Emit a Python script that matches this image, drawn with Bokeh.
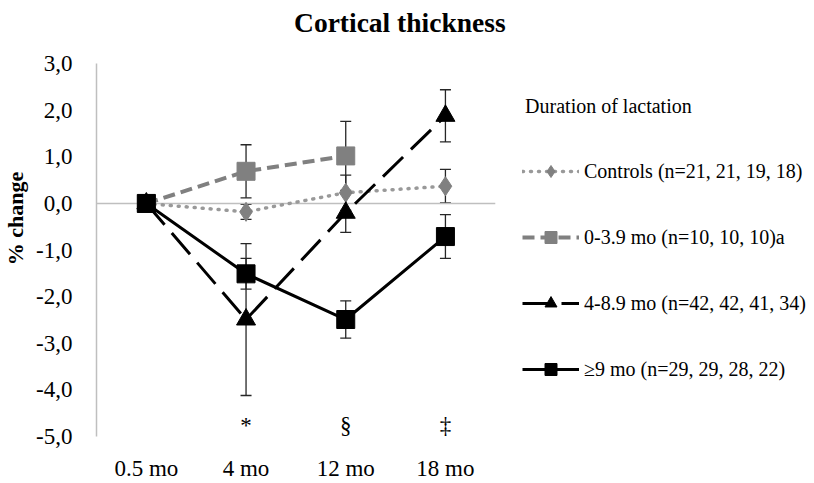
from bokeh.plotting import figure
from bokeh.models import (ColumnDataSource, Whisker, TeeHead, Legend,
                          LegendItem, FixedTicker, Label)
from bokeh.core.properties import value
from bokeh.embed import file_html
from bokeh.resources import INLINE

# Time points and significance markers
timepoints = ["0.5 mo", "4 mo", "12 mo", "18 mo"]
sig_points = ["4 mo", "12 mo", "18 mo"]
sig_marks = ["*", "\u00a7", "\u2021"]

# % change in cortical thickness (mean) and error (half-width) per group
controls_mean = [0.0, -0.18, 0.23, 0.37]
controls_err = [0.0, 0.16, 0.38, 0.36]

short_x = ["0.5 mo", "4 mo", "12 mo"]
short_mean = [0.0, 0.69, 1.02]
short_err = [0.0, 0.57, 0.74]

mid_mean = [0.0, -2.49, -0.20, 1.88]
mid_err = [0.0, 1.63, 0.42, 0.56]

long_mean = [0.0, -1.51, -2.49, -0.71]
long_err = [0.0, 0.33, 0.40, 0.47]

y_ticks = [-5, -4, -3, -2, -1, 0, 1, 2, 3]
y_tick_labels = ["-5,0", "-4,0", "-3,0", "-2,0", "-1,0", "0,0", "1,0", "2,0", "3,0"]

legend_title = "Duration of lactation"
legend_labels = [
    "Controls (n=21, 21, 19, 18)",
    "0-3.9 mo (n=10, 10, 10)a",
    "4-8.9 mo (n=42, 42, 41, 34)",
    "\u22659 mo (n=29, 29, 28, 22)",
]

SERIF = "Liberation Serif"

# each time point occupies one unit slot on a numeric axis
pos = {t: i + 0.5 for i, t in enumerate(timepoints)}
W, H = 814, 483
LEFT, BOTTOM = 92, 41
SLOT_PX = 100.25          # width of one time-point slot
UNIT_PX = 47.25           # pixels per 1 % on the y axis
Y_MIN, Y_MAX = -5, 3
x_end = (W - LEFT) / SLOT_PX
y_end = Y_MAX + (H - BOTTOM - (Y_MAX - Y_MIN) * UNIT_PX) / UNIT_PX

p = figure(width=W, height=H, x_range=(0, x_end), y_range=(Y_MIN, y_end),
           output_backend="svg", toolbar_location=None,
           min_border_left=LEFT, min_border_right=0,
           min_border_top=0, min_border_bottom=BOTTOM)
p.outline_line_color = None
p.grid.visible = False
p.background_fill_color = "white"
p.border_fill_color = "white"

# chart title
p.add_layout(Label(x=(397 - LEFT) / SLOT_PX, y=Y_MAX + (64 - 22) / UNIT_PX,
                   text="Cortical thickness", text_font=SERIF,
                   text_font_size="27.5px", text_font_style="bold",
                   text_color="black", text_align="center",
                   text_baseline="middle"))

# horizontal zero line across the time-point slots
p.segment(x0=[0], y0=[0], x1=[len(timepoints)], y1=[0],
          line_color="#bfbfbf", line_width=1.5)

ya = p.yaxis[0]
ya.ticker = FixedTicker(ticks=y_ticks)
ya.major_label_overrides = {t: s for t, s in zip(y_ticks, y_tick_labels)}
ya.bounds = (Y_MIN, Y_MAX)
ya.axis_line_color = "#bfbfbf"
ya.axis_line_width = 1.5
ya.major_tick_line_color = None
ya.minor_tick_line_color = None
ya.major_label_text_font = SERIF
ya.major_label_text_font_size = "23px"
ya.major_label_text_color = "black"
ya.major_label_standoff = 18
ya.axis_label = "% change"
ya.axis_label_text_font = SERIF
ya.axis_label_text_font_size = "22px"
ya.axis_label_text_font_style = "bold"
ya.axis_label_text_color = "black"
ya.axis_label_standoff = 5

xa = p.xaxis[0]
xa.ticker = FixedTicker(ticks=[pos[t] for t in timepoints])
xa.major_label_overrides = {pos[t]: t for t in timepoints}
xa.axis_line_color = None
xa.major_tick_line_color = None
xa.minor_tick_line_color = None
xa.major_label_text_font = SERIF
xa.major_label_text_font_size = "23px"
xa.major_label_text_color = "black"
xa.major_label_standoff = 13


def add_series(xs, mean, err, color, dash, width, marker, size, line_color=None):
    src = ColumnDataSource(dict(
        x=[pos[t] for t in xs], y=mean,
        upper=[m + e for m, e in zip(mean, err)],
        lower=[m - e for m, e in zip(mean, err)],
    ))
    ln = p.line("x", "y", source=src, line_color=line_color or color,
                line_width=width, line_dash=dash,
                line_cap="round" if dash == "1 7" else "butt")
    sc = p.scatter("x", "y", source=src, marker=marker, size=size,
                   fill_color=color, line_color=color)
    wk = Whisker(base="x", upper="upper", lower="lower", source=src,
                 line_color="#262626", line_width=1.3,
                 upper_head=TeeHead(size=11, line_color="#262626", line_width=1.3),
                 lower_head=TeeHead(size=11, line_color="#262626", line_width=1.3))
    p.add_layout(wk)
    return [ln, sc]


r_controls = add_series(timepoints, controls_mean, controls_err, "#808080",
                        "1 7", 3.5, "diamond", 19, line_color="#999999")
r_short = add_series(short_x, short_mean, short_err, "#808080",
                     "12 6", 4, "square", 18)
r_mid = add_series(timepoints, mid_mean, mid_err, "black",
                   "28 11", 3, "triangle", 19)
r_long = add_series(timepoints, long_mean, long_err, "black",
                    "solid", 3, "square", 18)

# significance symbols under the time points
SIG_Y = -4.76
p.text(x=[pos[t] for t in sig_points], y=[SIG_Y] * len(sig_points), text=sig_marks,
       text_font=value(SERIF), text_font_size="23px", text_color="black",
       text_align="center", text_baseline="middle")

# legend heading
p.add_layout(Label(x=(523 - LEFT) / SLOT_PX, y=Y_MAX + (64 - 107) / UNIT_PX,
                   text=legend_title, text_font=SERIF, text_font_size="20px",
                   text_color="black", text_align="left",
                   text_baseline="middle"))

legend = Legend(
    items=[LegendItem(label=lab, renderers=rs) for lab, rs in
           zip(legend_labels, [r_controls, r_short, r_mid, r_long])],
    location=(426, 52),
    label_text_font=SERIF, label_text_font_size="20px", label_text_color="black",
    glyph_width=57, glyph_height=30, label_height=30, label_standoff=5,
    spacing=36, padding=0, margin=0,
    border_line_color=None, background_fill_alpha=0,
)
p.add_layout(legend)

open("out.html", "w").write(file_html(p, INLINE))
